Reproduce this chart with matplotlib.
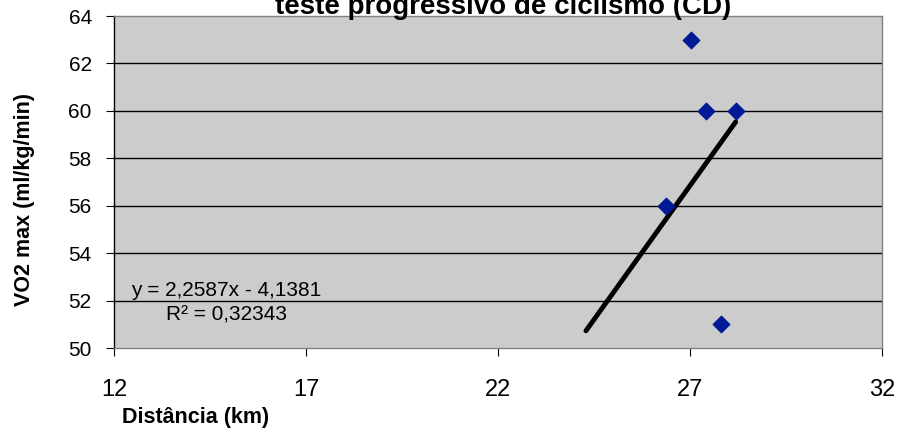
import numpy as np
import matplotlib
matplotlib.use('Agg')
import matplotlib.pyplot as plt

# data
dist = [27.03, 27.42, 28.19, 26.37, 27.80]
vo2 = [63.0, 60.0, 60.0, 56.0, 51.0]

# Excel linear trendline (coefficients shown on the chart)
slope = 2.2587
intercept = -4.1381
trend_x = np.array([24.29, 28.19])

title = 'teste progressivo de ciclismo (CD)'
xlabel = 'Distância (km)'
ylabel = 'VO2 max (ml/kg/min)'
xticks = [12, 17, 22, 27, 32]
yticks = [50, 52, 54, 56, 58, 60, 62, 64]

plt.rcParams['font.family'] = ['Liberation Sans', 'DejaVu Sans']

fig = plt.figure(figsize=(9.04, 4.33), dpi=100)
ax = fig.add_axes([114/904, 1 - 348/433, (882 - 114)/904, (348 - 16)/433])
ax.set_facecolor('#cccccc')

for yy in yticks[1:-1]:
    ax.axhline(yy, color='black', lw=1.0, zorder=1)

ax.plot(trend_x, slope*trend_x + intercept, color='black', lw=3.5,
        solid_capstyle='round', zorder=2)
ax.scatter(dist, vo2, marker='D', s=70, color='#001a96', edgecolor='#001a96',
           zorder=3, clip_on=False)

ax.set_xlim(12, 32)
ax.set_ylim(50, 64)
ax.set_xticks(xticks)
ax.set_yticks(yticks)
ax.tick_params(axis='x', labelsize=17, length=6, pad=16, color='black')
ax.tick_params(axis='y', labelsize=15, length=6, pad=10, color='black')

ax.spines['left'].set_color('black')
ax.spines['bottom'].set_color('#808080')
ax.spines['top'].set_color('#808080')
ax.spines['right'].set_color('#808080')
for s in ax.spines.values():
    s.set_linewidth(1.0)

ax.text(131/904, 1 - 290/433, 'y = 2,2587x - 4,1381', transform=fig.transFigure,
        fontsize=15, va='center', ha='left')
ax.text(166/904, 1 - 315/433, 'R² = 0,32343', transform=fig.transFigure,
        fontsize=15, va='center', ha='left')

fig.text(503/904, 1 - 14/433, title, ha='center', va='baseline',
         fontsize=20, fontweight='bold')
fig.text(122/904, 1 - 417/433, xlabel, ha='left', va='center',
         fontsize=15.5, fontweight='bold')
fig.text(25/904, 1 - 200/433, ylabel, ha='center', va='center',
         rotation=90, fontsize=15.5, fontweight='bold')

fig.savefig('out.png', dpi=100)
